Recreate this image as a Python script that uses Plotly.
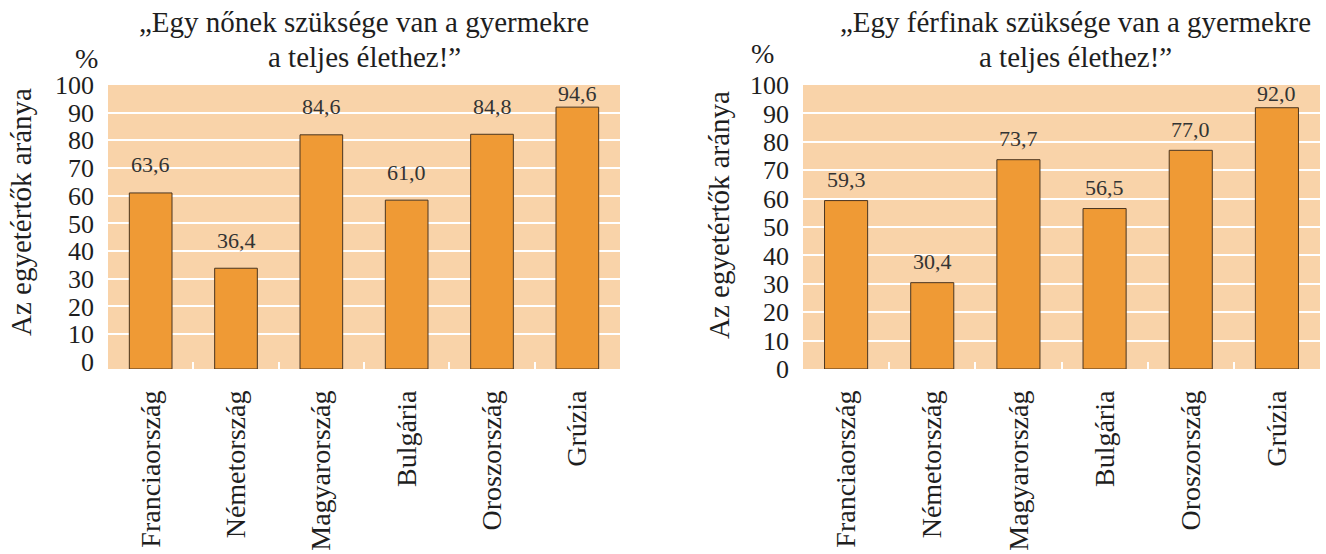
import plotly.graph_objects as go

# Adatok (a két grafikon közös kategóriái)
COUNTRIES = ["Franciaország", "Németország", "Magyarország", "Bulgária", "Oroszország", "Grúzia"]
WOMEN = [63.6, 36.4, 84.6, 61.0, 84.8, 94.6]
MEN = [59.3, 30.4, 73.7, 56.5, 77.0, 92.0]
TITLE_WOMEN = ["„Egy nőnek szüksége van a gyermekre", "a teljes élethez!”"]
TITLE_MEN = ["„Egy férfinak szüksége van a gyermekre", "a teljes élethez!”"]
Y_TITLE = "Az egyetértők aránya"
Y_TICKS = list(range(0, 101, 10))
GRID_TICKS = list(range(10, 100, 10))

W, H = 1326, 554
FONT = "Liberation Serif"
TEXT = "#1e1e1e"
BAR = "#EF9A35"
BAR_EDGE = "#4a3520"
PLOT_BG = "#F9D3A9"

# bal/jobb szél (px), y-tartomány alja, oszlopalap, cím közepe, "%" és tengelycím helye
PANELS = [
    dict(left=108, right=620, ymin=-2.6, base=-2.6, title_x=364, pct=(86, 59), ytitle=(21, 212)),
    dict(left=803, right=1320, ymin=0.0, base=0.0, title_x=1075, pct=(763, 53), ytitle=(719, 215)),
]
TOP_PX, BOTTOM_PX = 85, 369
TITLE_LINES_PX = (22, 57)
YLABEL_GAP_PX = 14  # ennyivel balrább áll az y-tengely (a számok miatt)


def px_x(v):
    return v / W


def px_y(v):
    return 1 - v / H


def fmt(v):
    return f"{v:.1f}".replace(".", ",")


def paper_text(x, y, text, size, **kw):
    return dict(
        x=px_x(x), y=px_y(y), xref="paper", yref="paper", text=text,
        xanchor="center", yanchor="middle", showarrow=False,
        font=dict(family=FONT, size=size, color=TEXT), **kw,
    )


fig = go.Figure()
annotations = []

for i, (values, title, p) in enumerate(
    zip([WOMEN, MEN], [TITLE_WOMEN, TITLE_MEN], PANELS), start=1
):
    sfx = "" if i == 1 else str(i)
    fig.add_bar(
        x=COUNTRIES,
        y=values,
        base=p["base"],
        width=0.5,
        marker=dict(color=BAR, line=dict(color=BAR_EDGE, width=1)),
        xaxis=f"x{sfx}",
        yaxis=f"y{sfx}",
        showlegend=False,
        hoverinfo="skip",
    )
    # értékcímkék az oszlopok fölött (a plot tetejénél megállítva)
    for c, v in zip(COUNTRIES, values):
        annotations.append(
            dict(
                x=c, y=min(v + 7.5, 97), xref=f"x{sfx}", yref=f"y{sfx}",
                text=fmt(v), showarrow=False, xanchor="center", yanchor="middle",
                font=dict(family=FONT, size=22, color="#333333"),
            )
        )
    fig.layout[f"xaxis{sfx}"] = dict(
        domain=[px_x(p["left"]), px_x(p["right"])], anchor=f"y{sfx}",
        type="category", automargin=False, fixedrange=True,
        tickangle=-90, ticks="inside", tickson="boundaries",
        ticklen=7, tickwidth=2, tickcolor="white",
        ticklabelstandoff=15, showgrid=False, showline=False,
        tickfont=dict(family=FONT, size=28, color=TEXT),
    )
    fig.layout[f"yaxis{sfx}"] = dict(
        domain=[px_y(BOTTOM_PX), px_y(TOP_PX)],
        anchor="free", position=px_x(p["left"] - YLABEL_GAP_PX),
        range=[p["ymin"], 100], tickvals=Y_TICKS, ticks="",
        automargin=False, fixedrange=True,
        showgrid=False, zeroline=False, showline=False,
        minor=dict(tickvals=GRID_TICKS, showgrid=True, gridcolor="white", gridwidth=2),
        tickfont=dict(family=FONT, size=26, color=TEXT),
    )
    for line, y in zip(title, TITLE_LINES_PX):
        annotations.append(paper_text(p["title_x"], y, line, 29))
    annotations.append(paper_text(*p["pct"], "%", 28))
    annotations.append(paper_text(*p["ytitle"], Y_TITLE, 29, textangle=-90))

fig.update_layout(
    width=W,
    height=H,
    margin=dict(l=0, r=0, t=0, b=0),
    paper_bgcolor="white",
    plot_bgcolor=PLOT_BG,
    annotations=annotations,
)

fig.write_html(
    "out.html",
    config={"displayModeBar": False},
    post_script="document.body.style.margin = '0';",
)
